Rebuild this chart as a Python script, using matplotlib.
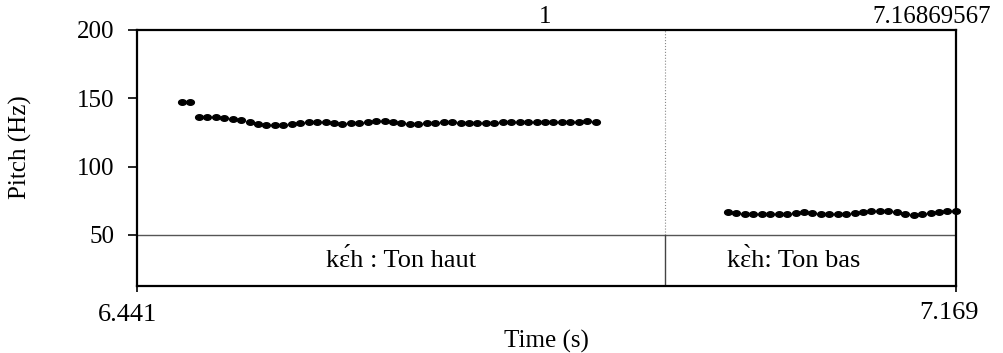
import matplotlib
matplotlib.use("Agg")
import matplotlib.pyplot as plt
import numpy as np
from matplotlib.path import Path

# Praat pitch track + text tier
t_start = 6.441
t_end = 7.16869567
boundary = 6.9101

t_high = [6.4810, 6.4885, 6.4960, 6.5035, 6.5110, 6.5185, 6.5260, 6.5335, 6.5410, 6.5485,
          6.5560, 6.5635, 6.5710, 6.5785, 6.5860, 6.5935, 6.6010, 6.6085, 6.6160, 6.6235,
          6.6310, 6.6385, 6.6460, 6.6535, 6.6610, 6.6685, 6.6760, 6.6835, 6.6910, 6.6985,
          6.7060, 6.7135, 6.7210, 6.7285, 6.7360, 6.7435, 6.7510, 6.7585, 6.7660, 6.7735,
          6.7810, 6.7885, 6.7960, 6.8035, 6.8110, 6.8185, 6.8260, 6.8335, 6.8410, 6.8485]
f0_high = [147.1, 147.1, 136.6, 136.3, 136.0, 135.5, 134.8, 133.8, 132.5, 131.2,
           130.6, 130.4, 130.5, 131.0, 131.8, 132.6, 133.0, 132.4, 131.6, 131.3,
           131.8, 132.3, 132.8, 133.2, 133.4, 133.0, 132.2, 131.5, 131.2, 131.6,
           132.3, 133.0, 132.8, 132.2, 131.8, 131.6, 131.8, 132.2, 132.6, 132.9,
           132.9, 132.7, 132.5, 132.4, 132.4, 132.6, 132.8, 133.0, 133.1, 133.0]

t_low = [6.9661, 6.9736, 6.9811, 6.9886, 6.9961, 7.0036, 7.0111, 7.0186, 7.0261, 7.0336,
         7.0411, 7.0486, 7.0561, 7.0636, 7.0711, 7.0786, 7.0861, 7.0936, 7.1011, 7.1086,
         7.1161, 7.1236, 7.1311, 7.1386, 7.1461, 7.1536, 7.1611, 7.1686]
f0_low = [66.6, 66.4, 65.5, 65.1, 65.0, 65.0, 65.1, 65.3, 66.3, 66.5,
          66.1, 65.6, 65.3, 65.0, 65.2, 65.8, 66.5, 67.2, 67.6, 67.5,
          66.8, 65.5, 64.8, 65.2, 66.2, 66.8, 67.2, 67.5]

labels = ["k\u025b\u0301h : Ton haut", "k\u025b\u0300h: Ton bas"]
label_t = [(t_start + boundary) / 2, 7.0247]

plt.rcParams['font.family'] = ['Liberation Serif', 'DejaVu Serif']
fs = 18

# slightly flattened dot, like Praat's speckle
ang = np.linspace(0, 2 * np.pi, 40)
dot = Path(np.column_stack([1.4 * np.cos(ang), np.sin(ang)]), closed=True)

fig = plt.figure(figsize=(10.04, 3.53), dpi=100)
W, H = 1004, 353
ax = fig.add_axes([137 / W, (H - 286) / H, 819 / W, 256 / H])

tier_h = 51 / 68.33 * 50
ymin = 50 - tier_h
ax.set_xlim(t_start, t_end)
ax.set_ylim(ymin, 200)

ax.plot(t_high, f0_high, ls='none', marker=dot, color='black', ms=5.6, mec='black', clip_on=False)
ax.plot(t_low, f0_low, ls='none', marker=dot, color='black', ms=5.6, mec='black', clip_on=False)

# tier separator and boundary
ax.axhline(50, color='#555555', lw=1)
ax.plot([boundary, boundary], [50, 200], color='#888888', lw=0.8, ls=':')
ax.plot([boundary, boundary], [ymin, 50], color='#444444', lw=1)

for t, lab in zip(label_t, labels):
    ax.text(t, 50 - tier_h / 2, lab, ha='center', va='center', fontsize=19)

for s in ax.spines.values():
    s.set_linewidth(1.6)

ax.set_yticks([50, 100, 150, 200])
ax.set_yticklabels(['50', '100', '150', '200'], fontsize=fs)
ax.tick_params(axis='y', direction='out', length=6.5, width=1.2, pad=10)
ax.set_xticks([t_start, t_end])
ax.set_xticklabels(['', ''])
ax.tick_params(axis='x', direction='out', length=4.5, width=1.2)

fig.text(128 / W, 1 - 315 / H, '6.441', ha='center', va='center', fontsize=19)
fig.text(949 / W, 1 - 313 / H, '7.169', ha='center', va='center', fontsize=19)
fig.text(546 / W, 1 - 341 / H, 'Time (s)', ha='center', va='center', fontsize=fs)
fig.text(545 / W, 1 - 17 / H, '1', ha='center', va='center', fontsize=fs)
fig.text(932 / W, 1 - 17 / H, '7.16869567', ha='center', va='center', fontsize=fs)
fig.text(20 / W, 1 - 147 / H, 'Pitch (Hz)', ha='center', va='center', rotation=90, fontsize=fs)

fig.savefig('out.png', dpi=100)
